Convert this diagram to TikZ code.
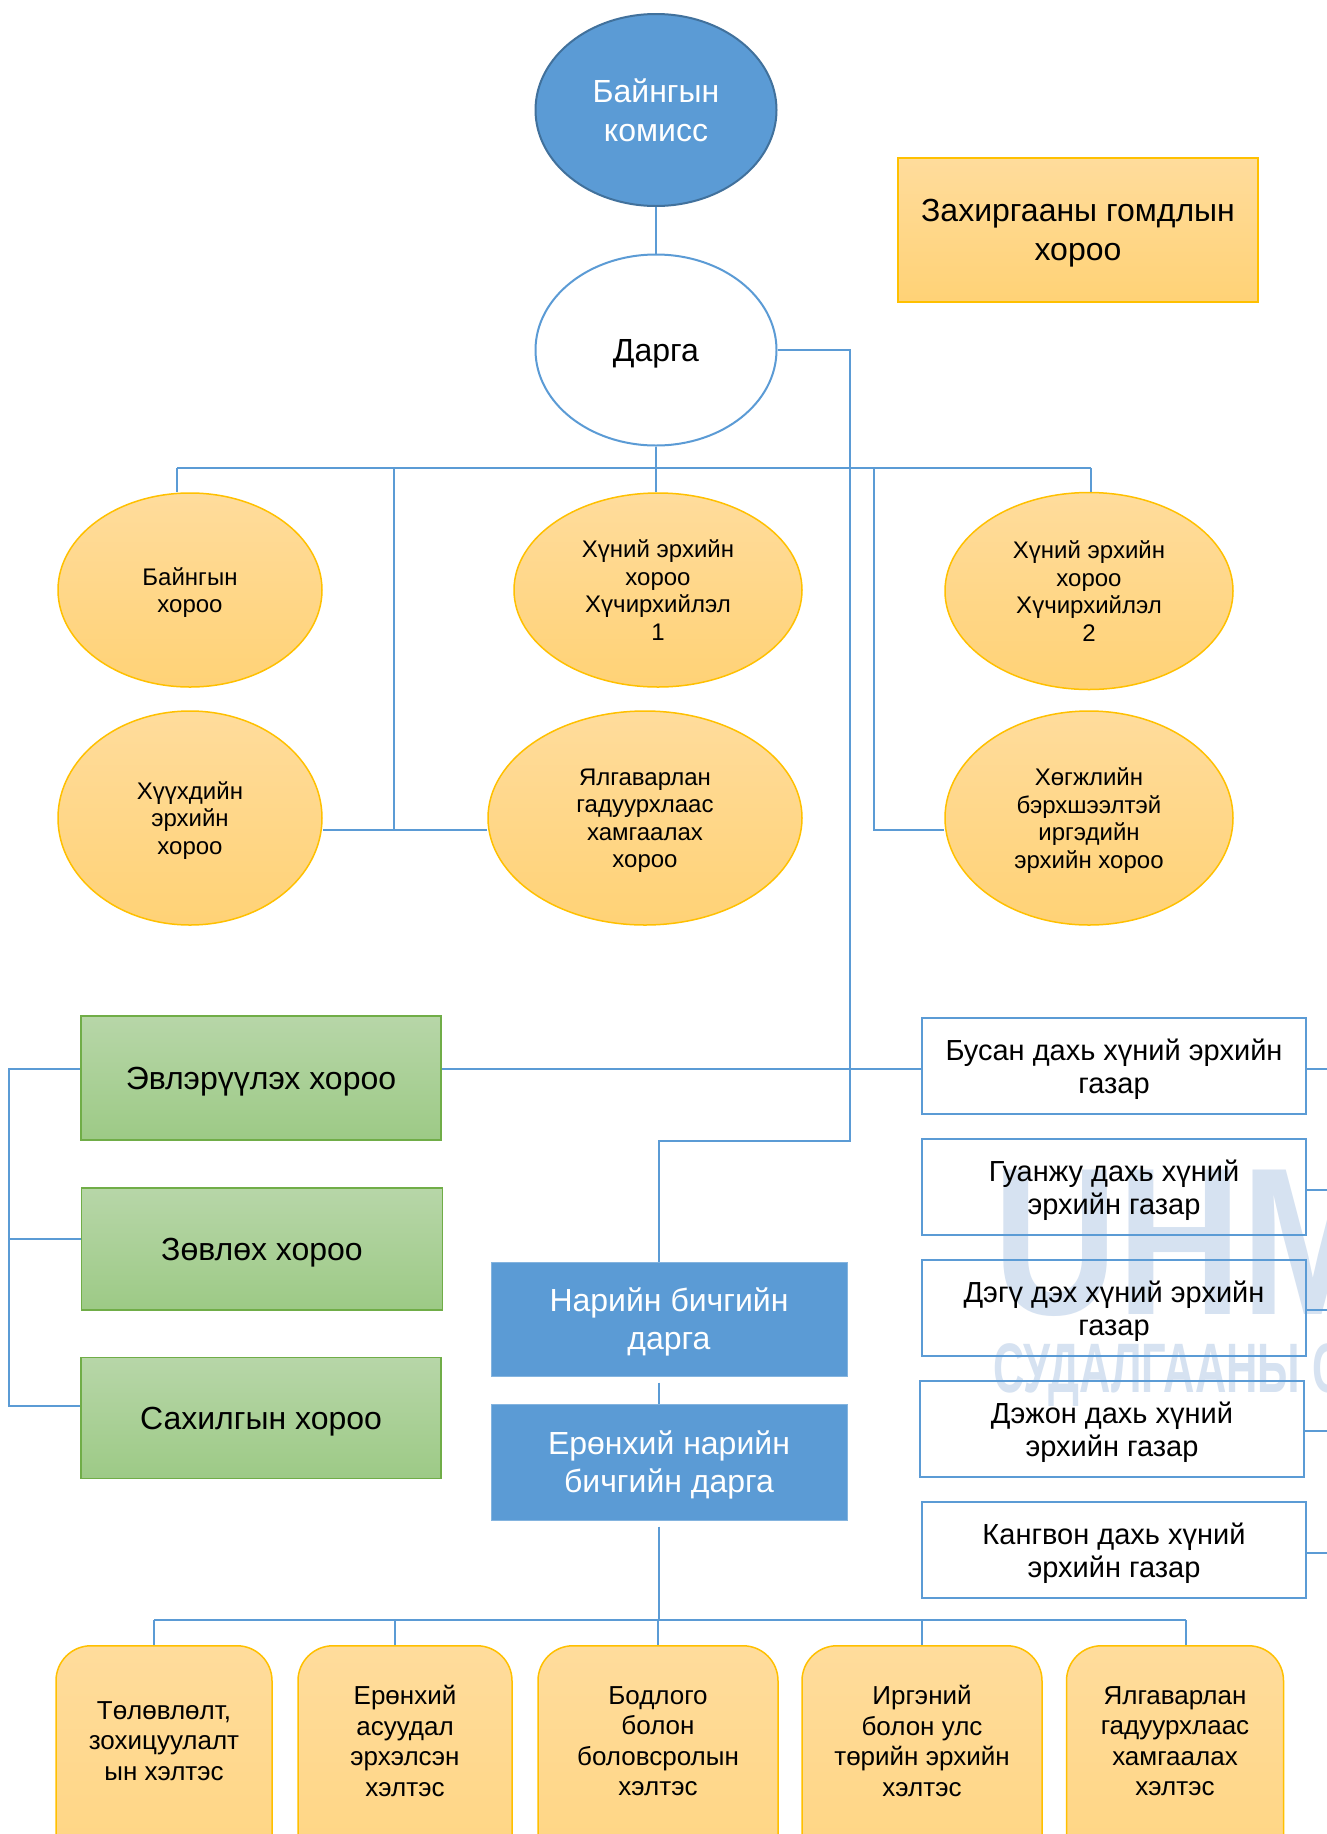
\documentclass[tikz,border=0pt]{standalone}
\usepackage{fontspec}
\setmainfont{Liberation Sans}
\usetikzlibrary{shapes.geometric}
\definecolor{lblue}{HTML}{5B9BD5}
\definecolor{dblue}{HTML}{41719C}
\definecolor{ytop}{HTML}{FFDC9C}
\definecolor{ybot}{HTML}{FFD276}
\definecolor{ybord}{HTML}{FFC000}
\definecolor{gtop}{HTML}{B7D6A8}
\definecolor{gbot}{HTML}{9DCA86}
\definecolor{gbord}{HTML}{70AD47}
\definecolor{wmark}{HTML}{D6E2F1}
\begin{document}
\begin{tikzpicture}[x=1pt,y=-1pt,
  conn/.style={draw=lblue, line width=1.3pt},
  yell/.style={ellipse, draw=ybord, line width=1.5pt, top color=ytop, bottom color=ybot,
    inner sep=0pt, align=center, text depth=0pt, font=\fontsize{24}{27.5}\selectfont},
  gbox/.style={rectangle, draw=gbord, line width=1.5pt, top color=gtop, bottom color=gbot,
    inner sep=0pt, align=center, text depth=0pt, font=\fontsize{32}{38}\selectfont},
  bbox/.style={rectangle, fill=lblue, draw=lblue!75!white, line width=1pt, text=white,
    inner sep=0pt, align=center, text depth=0pt, minimum width=356, font=\fontsize{32}{38}\selectfont},
  rbox/.style={rectangle, draw=lblue, line width=2.8pt, inner sep=0pt, align=center,
    text depth=0pt, minimum width=384, minimum height=96, font=\fontsize{29}{32.5}\selectfont},
  ybox/.style={rectangle, rounded corners=35pt, draw=ybord, line width=1.5pt,
    top color=ytop, bottom color=ybot, inner sep=0pt, minimum height=330, anchor=north},
  btext/.style={align=center, inner sep=0pt, font=\fontsize{26}{30.5}\selectfont},
  wm/.style={text=wmark, inner sep=0pt, anchor=north west}
]
\useasboundingbox (0,0) rectangle (1327,1834);
\fill[white] (0,0) rectangle (1327,1834);
\clip (0,0) rectangle (1327,1834);

% watermark
\node[wm, font=\bfseries\fontsize{210}{210}\selectfont, xscale=0.82] (wm1) at (993,1170) {UHM};
\node[wm, font=\bfseries\fontsize{70}{70}\selectfont, xscale=0.62] (wm2) at (993,1343) {СУДАЛГААНЫ С};

% top
\node[ellipse, fill=lblue, draw=dblue, line width=2pt, minimum width=241, minimum height=192,
  inner sep=0pt, align=center, text=white, text depth=0pt, font=\fontsize{32}{38.5}\selectfont] (komis) at (656,110) {Байнгын\\комисс};
\node[ellipse, fill=white, draw=lblue, line width=2pt, minimum width=241, minimum height=191,
  inner sep=0pt, text depth=0pt, font=\fontsize{32}{38}\selectfont] (darga) at (656,350) {Дарга};
\node[rectangle, draw=ybord, line width=1.5pt, top color=ytop, bottom color=ybot,
  minimum width=360, minimum height=144, inner sep=0pt, align=center, text depth=0pt,
  font=\fontsize{32}{38.5}\selectfont] (zaxir) at (1078,230) {Захиргааны гомдлын\\хороо};

% yellow ellipses
\node[yell, minimum width=264, minimum height=194] (e1) at (190,590) {Байнгын\\хороо};
\node[yell, minimum width=288, minimum height=194] (e2) at (658,590) {Хүний эрхийн\\хороо\\Хүчирхийлэл\\1};
\node[yell, minimum width=288, minimum height=197] (e3) at (1089,591) {Хүний эрхийн\\хороо\\Хүчирхийлэл\\2};
\node[yell, minimum width=264, minimum height=214] (e4) at (190,818) {Хүүхдийн\\эрхийн\\хороо};
\node[yell, minimum width=314, minimum height=214] (e5) at (645,818) {Ялгаварлан\\гадуурхлаас\\хамгаалах\\хороо};
\node[yell, minimum width=288, minimum height=214] (e6) at (1089,818) {Хөгжлийн\\бэрхшээлтэй\\иргэдийн\\эрхийн хороо};

% green boxes
\node[gbox, minimum width=360, minimum height=124] (g1) at (261,1078) {Эвлэрүүлэх хороо};
\node[gbox, minimum width=361, minimum height=122] (g2) at (262,1249) {Зөвлөх хороо};
\node[gbox, minimum width=360, minimum height=121] (g3) at (261,1418) {Сахилгын хороо};

% blue boxes
\node[bbox, minimum height=114] (n1) at (669,1319) {Нарийн бичгийн\\дарга};
\node[bbox, minimum height=116] (n2) at (669,1462) {Ерөнхий нарийн\\бичгийн дарга};

% right boxes
\node[rbox] (r1) at (1114,1066) {Бусан дахь хүний эрхийн\\газар};
\node[rbox] (r2) at (1114,1187) {Гуанжу дахь хүний\\эрхийн газар};
\node[rbox] (r3) at (1114,1308) {Дэгү дэх хүний эрхийн\\газар};
\node[rbox] (r4) at (1112,1429) {Дэжон дахь хүний\\эрхийн газар};
\node[rbox] (r5) at (1114,1550) {Кангвон дахь хүний\\эрхийн газар};

% bottom boxes
\node[ybox, minimum width=216] (b1) at (164,1645) {};
\node[ybox, minimum width=214] (b2) at (405,1645) {};
\node[ybox, minimum width=240] (b3) at (658,1645) {};
\node[ybox, minimum width=240] (b4) at (922,1645) {};
\node[ybox, minimum width=217] (b5) at (1175,1645) {};
\node[btext] (t1) at (164,1741) {Төлөвлөлт,\\зохицуулалт\\ын хэлтэс};
\node[btext] (t2) at (405,1741) {Ерөнхий\\асуудал\\эрхэлсэн\\хэлтэс};
\node[btext] (t3) at (658,1741) {Бодлого\\болон\\боловсролын\\хэлтэс};
\node[btext] (t4) at (922,1741) {Иргэний\\болон улс\\төрийн эрхийн\\хэлтэс};
\node[btext] (t5) at (1175,1741) {Ялгаварлан\\гадуурхлаас\\хамгаалах\\хэлтэс};

% coordinates
\coordinate (busL) at (177,468);
\coordinate (busR) at (1091,468);
\coordinate (v1) at (394,468);
\coordinate (j1) at (394,830);
\coordinate (v2) at (874,468);
\coordinate (j2) at (874,830);
\coordinate (d1) at (850,350);
\coordinate (d2) at (850,1141);
\coordinate (d3) at (659,1141);
\coordinate (ev) at (442,1069);
\coordinate (lb1) at (9,1069);
\coordinate (lb2) at (9,1239);
\coordinate (lb3) at (9,1406);
\coordinate (re1) at (1335,1069);
\coordinate (re2) at (1335,1190);
\coordinate (re3) at (1335,1310);
\coordinate (re4) at (1335,1431);
\coordinate (re5) at (1335,1553);
\coordinate (bb) at (659,1620);
\coordinate (bx1) at (154,1620);
\coordinate (bx2) at (395,1620);
\coordinate (bx3) at (658,1620);
\coordinate (bx4) at (922,1620);
\coordinate (bx5) at (1186,1620);

% connectors
\draw[conn] (komis.south) -- (darga.north);
\draw[conn] (darga.south) -- (darga.south |- e2.north);
\draw[conn] (busL) -- (busR);
\draw[conn] (busL) -- (busL |- e1.north);
\draw[conn] (busR) -- (busR |- e3.north);
\draw[conn] (v1) -- (j1);
\draw[conn] (e4.east |- j1) -- (e5.west |- j1);
\draw[conn] (v2) -- (j2) -- (e6.west |- j2);
\draw[conn] (darga.east) -- (d1) -- (d2) -- (d3) -- (d3 |- n1.north);
\draw[conn] (g1.east |- ev) -- (r1.west |- ev);
\draw[conn] (g1.west |- lb1) -- (lb1) -- (lb3) -- (g3.west |- lb3);
\draw[conn] (lb2) -- (g2.west |- lb2);
\draw[conn] (r1.east |- re1) -- (re1);
\draw[conn] (r2.east |- re2) -- (re2);
\draw[conn] (r3.east |- re3) -- (re3);
\draw[conn] (r4.east |- re4) -- (re4);
\draw[conn] (r5.east |- re5) -- (re5);
\draw[conn, shorten <=6pt] (n1.south -| d3) -- (n2.north -| d3);
\draw[conn, shorten <=6pt] (n2.south -| d3) -- (bb);
\draw[conn] (bx1) -- (bx5);
\draw[conn] (bx1) -- (bx1 |- b1.north);
\draw[conn] (bx2) -- (bx2 |- b2.north);
\draw[conn] (bx3) -- (bx3 |- b3.north);
\draw[conn] (bx4) -- (bx4 |- b4.north);
\draw[conn] (bx5) -- (bx5 |- b5.north);
\end{tikzpicture}
\end{document}
